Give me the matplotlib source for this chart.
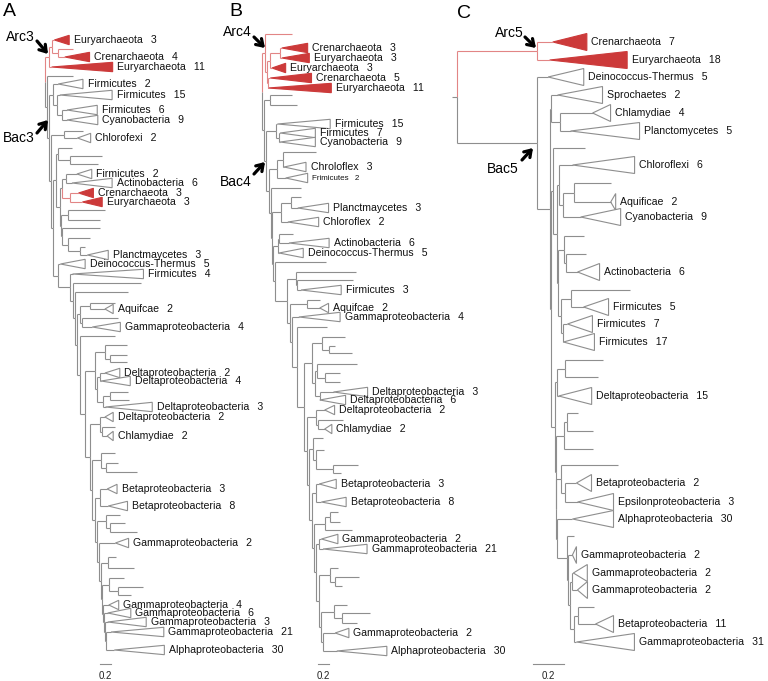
import matplotlib
matplotlib.use("Agg")
import matplotlib.pyplot as plt
from matplotlib.patches import Polygon

plt.rcParams['font.family'] = ['Liberation Sans', 'DejaVu Sans']

# ---------------- DATA ----------------
# Trees in Newick form (branch lengths in substitutions/site).
# Leaf "x" = single sequence; "Name_count" = collapsed clade; internal label "arc" = archaeal subtree.

# ---- Panel A ----
A_R0 = "((Euryarchaeota_3:0.05,(x:0.27,Crenarchaeota_4:0.13):0.11):0.05,Euryarchaeota_11:0.05)arc:0.07"
A_G20 = ("(Gammaproteobacteria_4:0.11,(Gammaproteobacteria_6:0.07,(Gammaproteobacteria_3:0.05,"
         "(Gammaproteobacteria_21:0.09,Alphaproteobacteria_30:0.15):0.02):0.02):0.02):0.02")
A_G19 = "((x:0.27,(x:0.47,x:0.24):0.16):0.13," + A_G20 + "):0.02"
A_G18 = "((x:0.15,x:0.47):0.13," + A_G19 + "):0.02"
A_G17 = "(Gammaproteobacteria_2:0.29," + A_G18 + "):0.04"
A_G16 = "((x:0.27,(x:0.27,x:0.49):0.09):0.15," + A_G17 + "):0.04"
A_G15 = "((Betaproteobacteria_3:0.13,Betaproteobacteria_8:0.15):0.09," + A_G16 + "):0.05"
A_G14 = "((x:0.27,(x:0.22,x:0.58):0.09):0.15," + A_G15 + "):0.04"
A_G13 = "((Deltaproteobacteria_2:0.09,(x:0.24,Chlamydiae_2:0.09):0.04):0.18," + A_G14 + "):0.09"
A_NDA = ("((x:0.4,(x:0.31,x:0.31):0.09):0.18,((Deltaproteobacteria_2:0.09,Deltaproteobacteria_4:0.02):0.05,"
         "((x:0.31,x:0.33):0.13,Deltaproteobacteria_3:0.04):0.11):0.04):0.18")
A_G12 = "(" + A_NDA + "," + A_G13 + "):0.09"
A_G11 = "(x:0.64," + A_G12 + "):0.05"
A_NA = "((x:0.45,Aquifcae_2:0.27):0.18,(x:0.64,Gammaproteobacteria_4:0.18):0.04):0.05"
A_G10 = "(" + A_NA + "," + A_G11 + "):0.04"
A_G7 = "(Firmicutes_4:0.04,(x:1.24,(x:0.96," + A_G10 + "):0.05):0.04):0.22"
A_G6 = "(Deinococcus-Thermus_5:0.04," + A_G7 + "):0.09"
A_X = "(x:0.69,(x:0.4,(x:0.09,Planctmaycetes_3:0.13):0.22):0.11):0.02"
A_W = "((x:0.67,x:0.58):0.13," + A_X + "):0.02"
A_NJ = ("((Firmicutes_2:0.2,Actinobacteria_6:0.11):0.07,"
        "(Crenarchaeota_3:0.15,Euryarchaeota_3:0.22)arc:0.15):0.04")
A_V = "(" + A_NJ + "," + A_W + "):0.07"
A_NH = "(x:0.25,(x:0.58,x:0.51):0.22):0.04"
A_U = "(" + A_NH + "," + A_V + "):0.05"
A_G3 = "(" + A_U + "," + A_G6 + "):0.05"
A_NE = "(x:0.35,Chlorofexi_2:0.25):0.24"
A_G2 = "(" + A_NE + "," + A_G3 + "):0.02"
A_NB = "(Firmicutes_2:0.09,(Firmicutes_15:0.05,(Firmicutes_6:0.09,Cyanobacteria_9:0.09):0.09):0.07):0.07"
A_G1 = "(" + A_NB + "," + A_G2 + "):0.04"
A_G0 = "(x:0.47," + A_G1 + "):0.04"
TREE_A = "(" + A_R0 + "," + A_G0 + "):0;"
ROWS_A = [40, 49, 57, 67, 76, 84, 95, 110, 120, 131, 138, 148, 156, 164, 174, 183, 193, 202,
          210, 220, 228, 238, 247, 255, 264, 274, 283, 292, 303, 309, 318, 327, 336, 345, 355,
          362, 373, 381, 392, 400, 407, 417, 427, 436, 453, 463, 472, 489, 506, 515, 523, 532,
          543, 557, 568, 578, 587, 595, 605, 613, 622, 632, 650]
CLADE_DEPTH_A = [0.27, 0.45, 1.11, 0.45, 0.95, 0.55, 0.56, 0.24, 0.27, 0.73, 0.27, 0.36, 0.38,
                 0.45, 1.29, 0.15, 0.51, 0.27, 0.53, 0.85, 0.15, 0.11, 0.18, 0.35, 0.24, 0.18,
                 0.42, 0.70, 0.96, 0.91]

# ---- Panel B ----
B_R0 = ("(x:0.49,(((Crenarchaeota_3:0.04,Euryarchaeota_3:0.04):0.18,Euryarchaeota_3:0.04):0.05,"
        "(Crenarchaeota_5:0.04,Euryarchaeota_11:0.0):0.02):0.04)arc:0.05")
B_G19 = "(Gammaproteobacteria_2:0.22,Alphaproteobacteria_30:0.25):0.04"
B_G18 = "((x:0.24,(x:0.51,x:0.27):0.15):0.24," + B_G19 + "):0.04"
B_G17 = "((x:0.16,(x:0.44,x:0.13):0.09):0.2," + B_G18 + "):0.04"
B_G16 = "((Gammaproteobacteria_2:0.04,Gammaproteobacteria_21:0.07):0.05," + B_G17 + "):0.05"
B_G15 = "(((x:0.16,x:0.18):0.09,x:0.49):0.2," + B_G16 + "):0.04"
B_G14 = "((Betaproteobacteria_3:0.05,Betaproteobacteria_8:0.09):0.09," + B_G15 + "):0.04"
B_G13 = "((x:0.18,(x:0.15,(x:0.45,x:0.15):0.31):0.05):0.07," + B_G14 + "):0.05"
B_G12 = "((Deltaproteobacteria_2:0.15,(x:0.47,Chlamydiae_2:0.13):0.02):0.18," + B_G13 + "):0.05"
B_G11 = ("(((x:0.42,(x:0.11,x:0.42):0.13):0.18,((x:0.73,(x:0.27,x:0.27):0.15):0.04,"
         "(Deltaproteobacteria_3:0.25,Deltaproteobacteria_6:0.0):0.09):0.05):0.15," + B_G12 + "):0.13")
B_G10 = "(x:0.55," + B_G11 + "):0.09"
B_G9 = "(Gammaproteobacteria_4:0.13," + B_G10 + "):0.04"
B_G8 = "((x:0.24,Aquifcae_2:0.24):0.31," + B_G9 + "):0.04"
B_G7 = "((x:1.09,(x:1.02,Firmicutes_3:0.07):0.02):0.16," + B_G8 + "):0.22"
B_G6 = "(x:0.93," + B_G7 + "):0.04"
B_G5 = "(((x:0.25,Actinobacteria_6:0.18):0.02,Deinococcus-Thermus_5:0.02):0.09," + B_G6 + "):0.02"
B_G4 = "(((x:0.18,Planctmaycetes_3:0.13):0.18,Chloroflex_2:0.13):0.16," + B_G5 + "):0.02"
B_G3 = "(x:0.55," + B_G4 + "):0.04"
B_G2 = "(((x:0.6,Chroloflex_3:0.02):0.11,Frimicutes_2:0.16):0.15," + B_G3 + "):0.04"
B_G1 = "((Firmicutes_15:0.02,(Firmicutes_7:0.02,Cyanobacteria_9:0.02):0.05):0.18," + B_G2 + "):0.04"
B_G0 = "((x:0.4,x:0.49):0.11," + B_G1 + "):0.04"
TREE_B = "(" + B_R0 + "," + B_G0 + "):0;"
ROWS_B = [34, 48, 58, 68, 78, 88, 95, 105, 124, 133, 142, 152, 167, 178, 188, 197, 208, 222,
          234, 243, 253, 262, 272, 280, 290, 300, 308, 317, 327, 337, 346, 353, 364, 373, 382,
          392, 400, 410, 420, 429, 438, 450, 465, 473, 484, 502, 512, 522, 530, 539, 549, 568,
          577, 586, 605, 613, 623, 633, 651]
CLADE_DEPTH_B = [0.47, 0.50, 0.25, 0.75, 1.15, 0.96, 0.64, 0.64, 0.40, 0.40, 0.56, 0.56, 0.73,
                 0.44, 0.73, 0.16, 0.75, 0.62, 0.47, 0.18, 0.13, 0.31, 0.45, 0.30, 0.80, 0.25,
                 0.91]
SMALL_LABELS_B = ["Frimicutes"]

# ---- Panel C ----
C_R0 = "(Crenarchaeota_7:0.1,Euryarchaeota_18:0.08)arc:0.52"
C_G9 = ("(x:0.045,(Gammaproteobacteria_2:0.026,((Gammaproteobacteria_2:0.006,Gammaproteobacteria_2:0.032):0.013,"
        "((x:0.097,Betaproteobacteria_11:0.11):0.026,Gammaproteobacteria_31:0.013):0.026):0.013):0.006):0.065")
C_G8 = "(Alphaproteobacteria_30:0.097," + C_G9 + "):0.006"
C_G7 = "((x:0.368,(Betaproteobacteria_2:0.077,Epsilonproteobacteria_3:0.084):0.026):0.026," + C_G8 + "):0.006"
C_G6 = "(((x:0.077,x:0.168):0.019,x:0.187):0.052," + C_G7 + "):0.006"
C_GBOT = "(((x:0.245,x:0.213):0.052,Deltaproteobacteria_15:0.013):0.013," + C_G6 + "):0.026"
C_G5 = ("((x:0.129,(x:0.129,Actinobacteria_6:0.077):0.013):0.039,((x:0.381,Firmicutes_5:0.084):0.065,"
        "(Firmicutes_7:0.032,Firmicutes_17:0.006):0.013):0.019):0.006")
C_G4 = ("((Chloroflexi_6:0.09,((x:0.239,Aquificae_2:0.239):0.071,Cyanobacteria_9:0.116):0.026):0.013,"
        + C_G5 + "):0.026")
C_G3 = "(x:0.206," + C_G4 + "):0.013"
C_G2 = "(" + C_G3 + "," + C_GBOT + "):0.006"
C_G1 = "((Sprochaetes_2:0.045,(Chlamydiae_4:0.213,Planctomycetes_5:0.071):0.058):0.006," + C_G2 + "):0.08"
C_G0 = "(Deinococcus-Thermus_5:0.07," + C_G1 + "):0.52"
TREE_C = "(" + C_R0 + "," + C_G0 + "):0.03;"
ROWS_C = [42, 60, 77, 95, 113, 131, 148, 165, 183, 202, 217, 236, 254, 272, 290, 307, 324, 342,
          360, 377, 396, 413, 431, 449, 465, 483, 502, 519, 536, 555, 573, 590, 607, 624, 642]
CLADE_DEPTH_C = [0.22, 0.50, 0.23, 0.29, 0.116, 0.445, 0.40, 0.032, 0.258, 0.142, 0.161, 0.161,
                 0.20, 0.213, 0.097, 0.232, 0.265, 0.026, 0.09, 0.065, 0.116, 0.374]

SCALE_BAR = 0.2
PANELS = ["A", "B", "C"]
ARC_LABELS = ["Arc3", "Arc4", "Arc5"]
BAC_LABELS = ["Bac3", "Bac4", "Bac5"]

# ---------------- STYLE / LAYOUT ----------------
W, H = 768, 681
GRAY = "#8e8e8e"
RED_LINE = "#e28585"
RED_FILL = "#cc3a3a"
LW = 0.8
FS = 7.6
GAP = "\u2002 "


def parse_newick(s):
    s = s.strip().rstrip(";")
    pos = 0

    def node():
        nonlocal pos
        nd = {"kids": [], "name": "", "bl": 0.0}
        if s[pos] == "(":
            pos += 1
            while True:
                nd["kids"].append(node())
                if s[pos] == ",":
                    pos += 1
                    continue
                pos += 1  # ')'
                break
        start = pos
        while pos < len(s) and s[pos] not in ":,()":
            pos += 1
        nd["name"] = s[start:pos]
        if pos < len(s) and s[pos] == ":":
            pos += 1
            start = pos
            while pos < len(s) and s[pos] not in ",()":
                pos += 1
            nd["bl"] = float(s[start:pos])
        return nd
    return node()


def draw_tree(ax, newick, rows, depths, hh, pad_pt, small=()):
    tree = parse_newick(newick)
    rows_it = iter(rows)
    dep_it = iter(depths)

    def rec(nd, px, red):
        if nd["name"] == "arc":
            red = True
        lc = RED_LINE if red else GRAY
        x = px + nd["bl"]
        if not nd["kids"]:
            y = next(rows_it)
            if nd["bl"] > 0:
                ax.plot([px, x], [y, y], color=lc, lw=LW, solid_capstyle="butt")
            if nd["name"] != "x":
                name, n = nd["name"].rsplit("_", 1)
                d = next(dep_it)
                ax.add_patch(Polygon([[x, y], [x + d, y - hh], [x + d, y + hh]], closed=True,
                                     fc=RED_FILL if red else "white",
                                     ec=RED_FILL if red else GRAY, lw=LW, joinstyle="miter"))
                ax.annotate(f"{name}{GAP}{n}", (x + d, y), xytext=(pad_pt, 0),
                            textcoords="offset points", ha="left", va="center",
                            fontsize=5.8 if name in small else FS, color="#111111")
            return y, red
        res = [rec(k, x, red) for k in nd["kids"]]
        ys = [r[0] for r in res]
        ym = (min(ys) + max(ys)) / 2
        for yc, rc in res:
            ax.plot([x, x], [ym, yc], color=RED_LINE if rc else GRAY, lw=LW,
                    solid_capstyle="butt")
        if nd["bl"] > 0:
            ax.plot([px, x], [ym, ym], color=lc, lw=LW, solid_capstyle="butt")
        return ym, red

    rec(tree, 0.0, False)
    assert next(rows_it, None) is None
    assert next(dep_it, None) is None


fig = plt.figure(figsize=(W / 100, H / 100), dpi=100)


def panel_axes(root_px, ppu):
    ax = fig.add_axes([0, 0, 1, 1])
    ax.set_xlim(-root_px / ppu, (W - root_px) / ppu)
    ax.set_ylim(H, 0)
    ax.axis("off")
    ax.patch.set_alpha(0)
    return ax


specs = [
    (TREE_A, ROWS_A, CLADE_DEPTH_A, 45, 55.0, 4.7, 3.3, (), 1.0),
    (TREE_B, ROWS_B, CLADE_DEPTH_B, 262, 55.0, 4.7, 3.3, tuple(SMALL_LABELS_B), 1.02),
    (TREE_C, ROWS_C, CLADE_DEPTH_C, 452, 155.0, 8.5, 3.3, (), 0.52),
]
for tree, rows, depths, root_px, ppu, hh, pad, small, sb in specs:
    ax = panel_axes(root_px, ppu)
    draw_tree(ax, tree, rows, depths, hh, pad, small)
    ax.plot([sb, sb + SCALE_BAR], [664, 664], color=GRAY, lw=LW)
    ax.text(sb + SCALE_BAR / 2, 676, f"{SCALE_BAR}", ha="center", va="center", fontsize=7,
            color="#222222")

# annotations (pixel overlay)
ov = fig.add_axes([0, 0, 1, 1])
ov.set_xlim(0, W)
ov.set_ylim(H, 0)
ov.axis("off")
ov.patch.set_alpha(0)

letter_pos = [(9, 12), (236, 12), (464, 13)]
arc_pos = [(20, 37), (237, 32), (509, 33)]
bac_pos = [(19, 138), (236, 182), (503, 169)]
arc_arrows = [((37, 41), (48, 54)), ((254, 37), (265, 48)), ((525, 37), (536, 48))]
bac_arrows = [((37, 133), (48, 120)), ((254, 174), (265, 162)), ((522, 160), (533, 148))]
for i in range(3):
    ov.text(*letter_pos[i], PANELS[i], fontsize=14, ha="center", va="center")
    ov.text(*arc_pos[i], ARC_LABELS[i], fontsize=10, ha="center", va="center")
    ov.text(*bac_pos[i], BAC_LABELS[i], fontsize=10, ha="center", va="center")
    for tail, tip in (arc_arrows[i], bac_arrows[i]):
        ov.annotate("", xy=tip, xytext=tail,
                    arrowprops=dict(arrowstyle="->,head_length=0.45,head_width=0.3", lw=2.3,
                                    color="black", shrinkA=0, shrinkB=0))

fig.savefig("out.png", dpi=100)
